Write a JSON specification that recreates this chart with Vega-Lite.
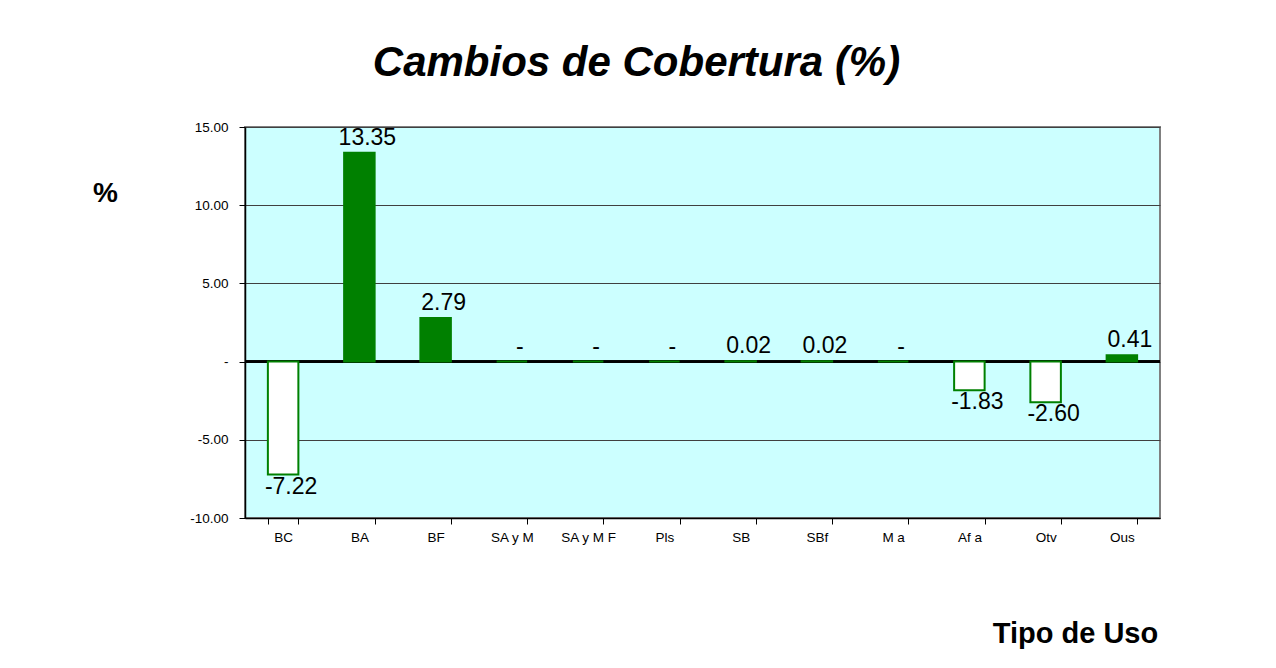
{
  "$schema": "https://vega.github.io/schema/vega-lite/v6.json",
  "autosize": {"type": "none"},
  "padding": {"left": 245, "top": 127, "right": 116, "bottom": 150},
  "width": 915,
  "height": 391,
  "background": "white",
  "title": {
    "text": "Cambios de Cobertura (%)",
    "font": "Liberation Sans",
    "fontSize": 42,
    "fontWeight": "bold",
    "fontStyle": "italic",
    "color": "black",
    "anchor": "middle",
    "dx": -66,
    "offset": 35
  },
  "config": {
    "view": {"fill": "#CCFFFF", "stroke": "#808080", "strokeWidth": 2},
    "font": "Liberation Sans"
  },
  "data": {
    "values": [
      {"tipo": "BC", "v": -7.22},
      {"tipo": "BA", "v": 13.35},
      {"tipo": "BF", "v": 2.79},
      {"tipo": "SA y M", "v": 0},
      {"tipo": "SA y M F", "v": 0},
      {"tipo": "Pls", "v": 0},
      {"tipo": "SB", "v": 0.02},
      {"tipo": "SBf", "v": 0.02},
      {"tipo": "M a", "v": 0},
      {"tipo": "Af a", "v": -1.83},
      {"tipo": "Otv", "v": -2.6},
      {"tipo": "Ous", "v": 0.41}
    ]
  },
  "transform": [
    {"calculate": "datum.v == 0 ? '-' : replace(format(datum.v, '.2f'), '\u2212', '-')", "as": "label"}
  ],
  "encoding": {
    "x": {
      "field": "tipo",
      "type": "nominal",
      "sort": null,
      "scale": {"paddingInner": 0.6, "paddingOuter": 0.3},
      "axis": {
        "title": "Tipo de Uso",
        "titleFont": "Liberation Sans",
        "titleFontSize": 29,
        "titleFontWeight": "bold",
        "titleColor": "black",
        "titleX": 830,
        "titleY": 115,
        "titleAlign": "center",
        "titleBaseline": "middle",
        "labelAngle": 0,
        "labelFontSize": 13.5,
        "labelColor": "black",
        "labelPadding": 6,
        "tickBand": "extent",
        "tickColor": "black",
        "tickSize": 6,
        "domainColor": "black",
        "domainWidth": 1.5
      }
    }
  },
  "layer": [
    {
      "mark": {"type": "rule", "color": "black", "strokeWidth": 1.5},
      "encoding": {"y": {"datum": 0}, "x": {"value": 0}, "x2": {"value": 915}}
    },
    {
      "mark": {"type": "bar", "stroke": "#008000", "strokeWidth": 2},
      "encoding": {
        "y": {
          "field": "v",
          "type": "quantitative",
          "scale": {"domain": [-10, 15], "nice": false},
          "axis": {
            "title": "%",
            "titleAngle": 0,
            "titleFont": "Liberation Sans",
            "titleFontSize": 28,
            "titleFontWeight": "bold",
            "titleColor": "black",
            "titleX": -140,
            "titleY": 66,
            "titleAlign": "center",
            "titleBaseline": "middle",
            "values": [-10, -5, 0, 5, 10, 15],
            "labelExpr": "datum.value == 0 ? '-' : replace(format(datum.value, '.2f'), '\u2212', '-')",
            "labelFontSize": 13.5,
            "labelColor": "black",
            "labelPadding": 11,
            "tickColor": "black",
            "tickSize": 6,
            "domainColor": "black",
            "domainWidth": 1.5,
            "grid": true,
            "gridColor": "#404040",
            "gridWidth": 1
          }
        },
        "y2": {"datum": 0},
        "fill": {
          "condition": {"test": "datum.v < 0", "value": "white"},
          "value": "#008000"
        }
      }
    },
    {
      "transform": [{"filter": "datum.v >= 0"}],
      "mark": {"type": "text", "baseline": "bottom", "dy": -3, "dx": 8, "fontSize": 23, "color": "black"},
      "encoding": {
        "y": {"field": "v", "type": "quantitative"},
        "text": {"field": "label", "type": "nominal"}
      }
    },
    {
      "transform": [{"filter": "datum.v < 0"}],
      "mark": {"type": "text", "baseline": "top", "dy": 1, "dx": 8, "fontSize": 23, "color": "black"},
      "encoding": {
        "y": {"field": "v", "type": "quantitative"},
        "text": {"field": "label", "type": "nominal"}
      }
    }
  ]
}
